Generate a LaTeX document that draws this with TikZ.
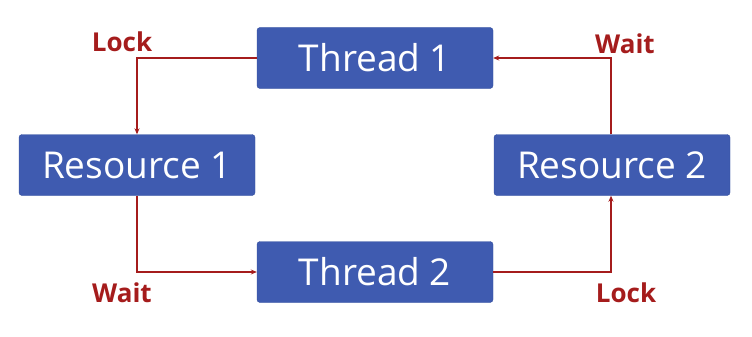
\documentclass[tikz,border=0pt]{standalone}
\usepackage{fontspec}
\setmainfont{Open Sans}
\usetikzlibrary{arrows.meta}
\definecolor{boxblue}{HTML}{3F5BB0}
\definecolor{boxedge}{HTML}{34509E}
\definecolor{lred}{HTML}{A51C1C}
\begin{document}
\begin{tikzpicture}[x=1pt,y=-1pt,
  box/.style={draw=boxedge,fill=boxblue,rounded corners=3pt,minimum width=236pt,minimum height=61pt,inner sep=0pt,text=white,font=\fontsize{37}{42}\selectfont},
  lbl/.style={text=lred,font=\bfseries\fontsize{26}{30}\selectfont,inner sep=0pt},
  conn/.style={draw=lred,line width=1.3pt,-{Stealth[length=6pt,width=5pt]}}]
\useasboundingbox (0,0) rectangle (752,337);
\node[box] (t1) at (375,58) {Thread 1};
\node[box] (r1) at (137,165) {Resource 1};
\node[box] (r2) at (612,165) {Resource 2};
\node[box] (t2) at (375,272) {Thread 2};
\coordinate (c1) at (137,58);
\coordinate (c2) at (137,272);
\coordinate (c3) at (611,272);
\coordinate (c4) at (611,58);
\draw[conn] (t1.west) -- (c1) -- (r1.north -| c1);
\draw[conn] (r1.south -| c2) -- (c2) -- (t2.west);
\draw[conn] (t2.east) -- (c3) -- (r2.south -| c3);
\draw[conn] (r2.north -| c4) -- (c4) -- (t1.east);
\node[lbl] (l1) at (122,42) {Lock};
\node[lbl] (l2) at (625,44) {Wait};
\node[lbl] (l3) at (122,293) {Wait};
\node[lbl] (l4) at (626,293) {Lock};
\end{tikzpicture}
\end{document}
